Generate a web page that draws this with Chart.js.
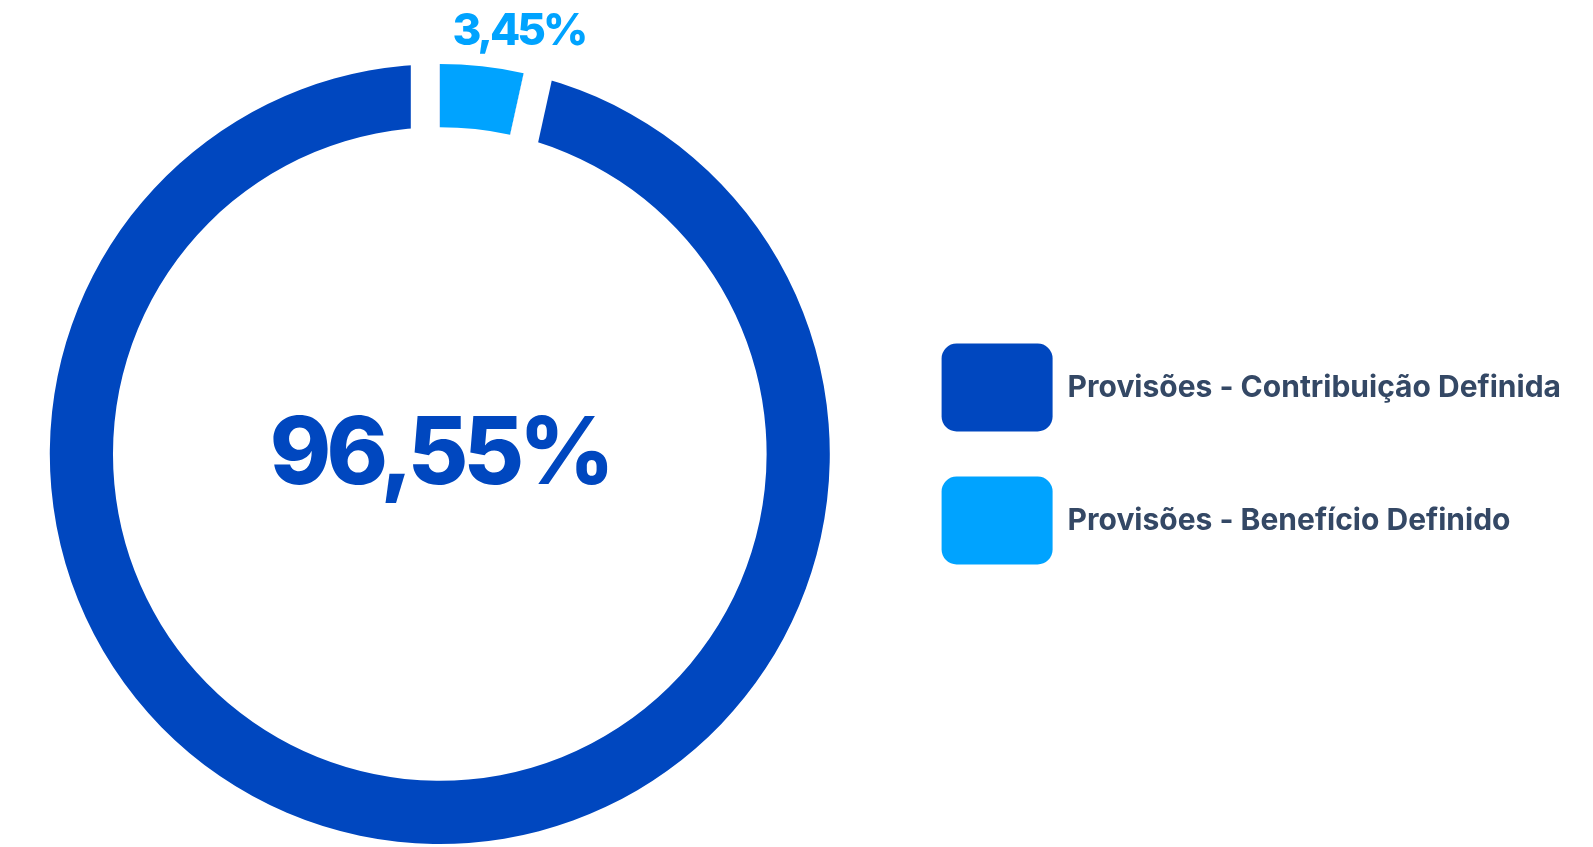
<!DOCTYPE html>
<html lang="pt-BR">
<head>
<meta charset="utf-8">
<script src="https://cdn.jsdelivr.net/npm/chart.js@4/dist/chart.umd.min.js"></script>
<style>
  html, body { margin: 0; padding: 0; background: #fff; overflow: hidden; }
  #wrap { position: absolute; left: -17px; top: 0; width: 1612px; height: 847px; }
</style>
</head>
<body>
<div id="wrap"><canvas id="provisoes"></canvas></div>
<script>
// Valores
const categorias = ["Provisões - Contribuição Definida", "Provisões - Benefício Definido"];
const percentuais = [96.55, 3.45];
const cores = ["#0047BF", "#00A3FF"];
const corTexto = "#344865";

const total = percentuais.reduce((a, b) => a + b, 0);
const fmt = v => v.toFixed(2).replace(".", ",") + "%";

// white gaps on the dark side of the small slice + value labels
const rotulos = {
  id: "rotulos",
  afterDatasetsDraw(chart) {
    const ctx = chart.ctx;
    const meta = chart.getDatasetMeta(0);
    const big = meta.data[0];
    const small = meta.data[1];
    const { x, y, startAngle, endAngle, innerRadius, outerRadius } =
      small.getProps(["x", "y", "startAngle", "endAngle", "innerRadius", "outerRadius"], true);
    const gap = 29;

    ctx.save();
    ctx.fillStyle = "#fff";
    [[startAngle, 1], [endAngle, -1]].forEach(([a, s]) => {
      const ux = Math.cos(a), uy = Math.sin(a);
      const nx = s * Math.sin(a), ny = -s * Math.cos(a);
      const r0 = innerRadius - 2, r1 = outerRadius + 2;
      ctx.beginPath();
      ctx.moveTo(x + ux * r0, y + uy * r0);
      ctx.lineTo(x + ux * r1, y + uy * r1);
      ctx.lineTo(x + ux * r1 + nx * gap, y + uy * r1 + ny * gap);
      ctx.lineTo(x + ux * r0 + nx * gap, y + uy * r0 + ny * gap);
      ctx.closePath();
      ctx.fill();
    });

    // small slice label, above the ring
    const a = startAngle + 0.85 * (endAngle - startAngle);
    const rl = outerRadius + 42;
    ctx.fillStyle = cores[1];
    ctx.font = "800 44px Inter";
    ctx.textAlign = "center";
    ctx.textBaseline = "alphabetic";
    ctx.letterSpacing = "-3px";
    ctx.fillText(fmt(percentuais[1]), x + Math.cos(a) * rl, y + Math.sin(a) * rl + 44 * 0.363);

    // big value in the middle
    ctx.fillStyle = cores[0];
    ctx.font = "800 93px Inter";
    ctx.letterSpacing = "-5px";
    ctx.fillText(fmt(percentuais[0]), big.x, big.y + 93 * 0.363 - 4);
    ctx.restore();
  }
};

new Chart(document.getElementById("provisoes"), {
  type: "doughnut",
  data: {
    labels: categorias,
    datasets: [{
      data: percentuais,
      backgroundColor: cores,
      borderWidth: 0,
      hoverOffset: 0
    }]
  },
  options: {
    responsive: true,
    maintainAspectRatio: false,
    animation: false,
    cutout: "83.8%",
    rotation: percentuais[1] / total * 360,
    layout: { padding: { top: 64, bottom: 3, left: 0, right: 24 } },
    plugins: {
      tooltip: { enabled: false },
      legend: {
        position: "right",
        align: "center",
        labels: {
          boxWidth: 111,
          boxHeight: 88,
          padding: 45,
          useBorderRadius: true,
          borderRadius: 15,
          color: corTexto,
          font: { family: "Inter", size: 30, weight: "700" },
          generateLabels: chart => chart.data.labels.map((text, i) => ({
            text,
            fillStyle: cores[i],
            strokeStyle: cores[i],
            lineWidth: 0,
            fontColor: corTexto,
            borderRadius: 15,
            hidden: !chart.getDataVisibility(i),
            index: i
          }))
        }
      }
    }
  },
  plugins: [rotulos]
});
</script>
</body>
</html>
